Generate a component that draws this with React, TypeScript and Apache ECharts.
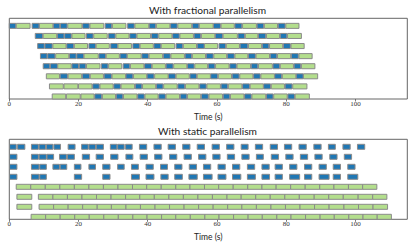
import React, { useEffect, useRef } from "react";
import * as echarts from "echarts";

// ---- Data (times in seconds, rows top-to-bottom = worker 0..7) ----
const xTicks = [0, 20, 40, 60, 80, 100];
const titles = ["With fractional parallelism", "With static parallelism"];
const xLabel = "Time (s)";

// Fractional parallelism: blue (short) and green (long) tasks per worker
const fracBlue: number[][][] = [
  [[0, 1.9], [6.6, 8.6], [12.7, 14.6], [14.8, 16.7], [21.2, 23.1], [27.7, 29.6], [34.2, 36.1], [40.4, 42.3], [46.6, 48.5], [52.9, 54.8], [59.0, 61.0], [65.2, 67.2], [71.6, 73.5], [77.7, 79.7]],
  [[7.5, 9.6], [13.9, 15.8], [16.0, 17.9], [22.3, 24.2], [28.7, 30.6], [34.8, 36.7], [41.1, 43.0], [47.2, 49.1], [53.4, 55.3], [59.5, 61.6], [66.1, 68.0], [72.0, 74.1], [78.3, 80.2]],
  [[8.2, 10.1], [10.3, 12.4], [16.6, 18.6], [23.0, 24.9], [29.3, 31.3], [35.7, 37.6], [41.8, 43.8], [48.2, 50.1], [54.3, 56.3], [60.6, 62.5], [66.7, 68.9], [73.1, 75.0], [79.2, 81.2]],
  [[9.0, 10.9], [11.1, 13.2], [17.4, 19.3], [19.5, 21.5], [25.9, 27.8], [32.0, 34.0], [38.3, 40.2], [44.5, 46.5], [50.8, 52.7], [56.9, 58.9], [63.0, 65.0], [69.1, 71.1], [75.4, 77.3], [81.5, 83.5]],
  [[9.8, 11.7], [11.9, 13.9], [18.1, 20.0], [20.2, 22.1], [26.6, 28.5], [32.9, 34.8], [39.1, 41.1], [45.3, 47.3], [51.5, 53.4], [57.5, 59.4], [63.7, 65.6], [69.9, 71.8], [76.2, 78.1], [82.3, 84.2]],
  [[14.7, 16.8], [21.1, 23.2], [27.4, 29.5], [33.7, 35.7], [39.8, 41.8], [46.0, 48.0], [52.2, 54.1], [58.2, 60.2], [64.4, 66.4], [70.6, 72.5], [76.7, 78.7], [82.9, 84.9]],
  [[24.1, 26.0], [30.2, 32.1], [36.4, 38.3], [42.5, 44.4], [48.7, 50.7], [55.0, 56.9], [61.2, 63.1], [67.4, 69.4], [73.5, 75.5], [79.7, 81.7]],
  [[24.7, 26.7], [30.9, 32.8], [37.1, 39.0], [43.2, 45.1], [49.4, 51.3], [55.5, 57.5], [61.8, 63.7], [68.0, 69.9], [74.3, 76.2], [80.5, 82.4]],
];
const fracGreen: number[][][] = [
  [[2.0, 6.0], [8.7, 12.6], [16.9, 21.0], [23.3, 27.3], [29.8, 33.7], [36.3, 40.3], [42.5, 46.4], [48.7, 52.7], [54.9, 58.9], [61.2, 65.0], [67.4, 71.4], [73.7, 77.5], [79.9, 83.7]],
  [[9.8, 13.7], [18.1, 21.9], [24.4, 28.3], [30.8, 34.6], [36.9, 40.8], [43.2, 47.0], [49.3, 53.2], [55.5, 59.4], [61.8, 65.9], [68.2, 71.8], [74.3, 78.1], [80.4, 84.4]],
  [[12.6, 16.4], [18.8, 22.6], [25.1, 28.9], [31.4, 35.3], [37.8, 41.6], [43.9, 47.8], [50.3, 54.1], [56.4, 60.2], [62.7, 66.5], [69.1, 72.9], [75.2, 79.0], [81.4, 85.2]],
  [[13.4, 17.2], [21.6, 25.7], [28.0, 31.8], [34.1, 38.1], [40.4, 44.3], [46.7, 50.6], [52.9, 56.7], [59.1, 62.8], [65.2, 68.9], [71.3, 75.2], [77.5, 81.3], [83.7, 87.5]],
  [[14.0, 17.9], [22.3, 26.2], [28.7, 32.5], [35.0, 38.9], [41.3, 45.1], [47.5, 51.3], [53.6, 57.3], [59.6, 63.5], [65.8, 69.7], [72.0, 76.0], [78.3, 82.1], [84.4, 88.3]],
  [[10.7, 14.5], [17.0, 20.9], [23.4, 27.2], [29.7, 33.6], [35.9, 39.7], [42.0, 45.9], [48.2, 52.0], [54.3, 58.1], [60.4, 64.2], [66.6, 70.4], [72.7, 76.6], [78.9, 82.8], [85.0, 89.1]],
  [[11.6, 15.6], [15.8, 19.8], [20.0, 23.9], [26.2, 30.0], [32.3, 36.2], [38.5, 42.3], [44.6, 48.5], [50.9, 54.8], [57.1, 61.0], [63.3, 67.2], [69.6, 73.4], [75.7, 79.5], [81.9, 86.0]],
  [[12.4, 16.3], [16.5, 20.5], [20.7, 24.5], [26.9, 30.7], [33.0, 36.9], [39.2, 43.0], [45.3, 49.2], [51.5, 55.3], [57.7, 61.6], [63.9, 67.8], [70.1, 74.1], [76.4, 80.3], [82.6, 86.7]],
];

// Static parallelism: workers 0-3 run blue tasks, workers 4-7 run green tasks
const staticBlue: number[][][] = [
  [[0.1, 2.0], [2.4, 4.5], [6.4, 8.4], [8.6, 10.5], [10.7, 12.6], [12.9, 14.8], [17.0, 19.0], [20.9, 22.8], [23.0, 24.9], [25.1, 27.2], [29.2, 31.1], [31.3, 33.2], [33.6, 35.5], [37.6, 39.7], [41.8, 43.9], [45.9, 48.0], [50.1, 52.2], [54.3, 56.4], [58.6, 60.7], [62.8, 64.9], [67.0, 69.0], [71.1, 73.2], [75.4, 77.5], [79.5, 81.6], [83.7, 85.8], [88.0, 90.1], [92.2, 94.2], [96.4, 98.5], [100.6, 102.7]],
  [[0.1, 2.2], [6.4, 8.4], [8.6, 10.7], [10.9, 12.8], [14.5, 16.5], [16.8, 18.8], [21.1, 23.2], [25.1, 27.2], [29.3, 31.4], [33.7, 35.7], [37.8, 39.9], [42.0, 44.1], [46.3, 48.4], [50.5, 52.6], [54.7, 56.8], [58.8, 60.9], [63.0, 65.1], [67.2, 69.3], [71.4, 73.4], [75.7, 77.8], [79.9, 82.0], [84.1, 86.2], [88.3, 90.4], [92.6, 94.7], [96.8, 98.9]],
  [[0.1, 2.2], [6.4, 8.6], [8.8, 10.7], [12.6, 14.5], [14.7, 16.6], [18.8, 20.7], [23.0, 24.9], [27.0, 29.1], [31.3, 33.2], [35.3, 37.3], [39.5, 41.6], [43.7, 45.7], [47.8, 49.9], [52.0, 54.1], [56.1, 58.2], [60.3, 62.4], [64.5, 66.6], [68.8, 70.9], [73.0, 75.1], [76.8, 78.9], [81.0, 83.1], [85.3, 87.4], [89.5, 91.6], [93.6, 95.7], [97.8, 99.9]],
  [[0.1, 2.2], [6.4, 8.6], [8.8, 10.7], [18.8, 20.9], [27.0, 29.1], [35.3, 37.6], [39.5, 41.8], [43.8, 45.9], [47.8, 50.0], [51.9, 54.3], [56.1, 58.6], [60.3, 62.6], [64.5, 66.9], [68.8, 71.1], [73.0, 75.2], [76.8, 78.9], [81.0, 83.9], [85.3, 87.4], [89.5, 92.4], [93.6, 95.7], [97.8, 100.7]],
  [], [], [], [],
];
// green chains: each chain is a list of consecutive task boundaries
const staticGreenChains: number[][][] = [
  [], [], [], [],
  [[2.0, 6.2, 10.4, 14.6, 18.8, 23.0, 27.2, 31.4, 35.6, 39.7, 43.9, 48.1, 52.2, 56.4, 60.5, 64.7, 68.9, 73.0, 77.1, 81.3, 85.5, 89.7, 93.8, 98.0, 102.1, 106.2]],
  [[2.2, 6.5], [8.4, 12.6, 16.8, 21.0, 25.2, 29.4, 33.6, 37.7, 41.9, 46.1, 50.3, 54.5, 58.7, 62.9, 67.0, 71.2, 75.4, 79.6, 83.8, 88.1, 92.3, 96.5, 100.8, 105.0, 109.1]],
  [[2.2, 6.5], [8.6, 12.8, 17.0, 21.2, 25.4, 29.5, 33.7, 37.9, 42.1, 46.3, 50.5, 54.7, 58.9, 63.1, 67.2, 71.4, 75.6, 79.8, 84.0, 88.2, 92.4, 96.7, 100.9, 105.1, 109.3]],
  [[6.3, 10.5, 14.7, 18.9, 23.1, 27.3, 31.5, 35.7, 39.8, 44.0, 48.1, 52.3, 56.5, 60.6, 64.8, 69.0, 73.1, 77.3, 81.4, 85.6, 89.8, 93.9, 98.1, 102.2, 106.3, 110.4]],
];

const BLUE = "#1f77b4";
const GREEN = "#b3de8d";
const EDGE = "#8a8a8a";

function buildItems(blue: number[][][], green: number[][][]) {
  const items: number[][] = [];
  blue.forEach((row, r) => row.forEach(([s, e]) => items.push([s, e, r, 0])));
  green.forEach((row, r) => row.forEach(([s, e]) => items.push([s, e, r, 1])));
  return items;
}
function chainsToSegments(chains: number[][][]) {
  return chains.map((row) => {
    const segs: number[][] = [];
    row.forEach((chain) => {
      for (let i = 0; i + 1 < chain.length; i++) segs.push([chain[i], chain[i + 1]]);
    });
    return segs;
  });
}

const fracItems = buildItems(fracBlue, fracGreen);
const staticItems = buildItems(staticBlue, chainsToSegments(staticGreenChains));

export default function App() {
  const ref = useRef<HTMLDivElement>(null);
  useEffect(() => {
    if (!ref.current) return;
    const chart = echarts.init(ref.current, null, { renderer: "svg" });
    const renderItem = (params: any, api: any) => {
      const row = api.value(2);
      const p1 = api.coord([api.value(0), row]);
      const p2 = api.coord([api.value(1), row]);
      const h = api.size([0, 0.5])[1];
      const cs = params.coordSys;
      const top = Math.max(p1[1] - h / 2, cs.y);
      const bottom = Math.min(p1[1] + h / 2, cs.y + cs.height);
      return {
        type: "rect",
        shape: { x: p1[0], y: top, width: p2[0] - p1[0], height: bottom - top },
        style: { fill: api.value(3) === 0 ? BLUE : GREEN, stroke: EDGE, lineWidth: 1 },
      };
    };
    const grids = [
      { left: 9.3, right: 7.7, top: 18.3, height: 80.7 },
      { left: 9.3, right: 7.7, top: 139.3, height: 80 },
    ];
    const xAxis = grids.map((_, i) => ({
      type: "value",
      gridIndex: i,
      position: "bottom",
      min: 0,
      max: 115,
      interval: 20,
      name: xLabel,
      nameLocation: "middle",
      nameGap: 13,
      nameTextStyle: { fontFamily: "Lato", fontSize: 8.5, color: "#222" },
      axisLine: { show: false, onZero: false },
      axisTick: { show: true, length: 2.5, lineStyle: { color: "#555", width: 0.8 } },
      axisLabel: {
        fontFamily: "Liberation Serif",
        fontSize: 7,
        color: "#333",
        margin: 1.5,
        showMaxLabel: false,
        formatter: (v: number) => (xTicks.includes(v) ? String(v) : ""),
      },
      splitLine: { show: false },
    }));
    const yAxis = grids.map((_, i) => ({
      type: "value",
      gridIndex: i,
      min: -0.75,
      max: 7.25,
      inverse: true,
      show: false,
      axisLine: { onZero: false },
      splitLine: { show: false },
    }));
    chart.setOption({
      animation: false,
      backgroundColor: "#fff",
      title: titles.map((t, i) => ({
        text: t,
        left: "center",
        top: i === 0 ? 5 : 126,
        padding: 0,
        textStyle: { fontFamily: "Lato", fontSize: 10.2, fontWeight: "normal", color: "#222" },
      })),
      grid: grids.map((g) => ({ ...g, show: true, borderColor: "#666", borderWidth: 1, backgroundColor: "transparent" })),
      xAxis,
      yAxis,
      series: [
        { type: "custom", xAxisIndex: 0, yAxisIndex: 0, renderItem, data: fracItems, dimensions: ["start", "end", "row", "kind"] },
        { type: "custom", xAxisIndex: 1, yAxisIndex: 1, renderItem, data: staticItems, dimensions: ["start", "end", "row", "kind"] },
      ],
    });
    return () => chart.dispose();
  }, []);
  return <div ref={ref} style={{ width: 415, height: 249, position: "absolute", left: 0, top: 0 }} />;
}
